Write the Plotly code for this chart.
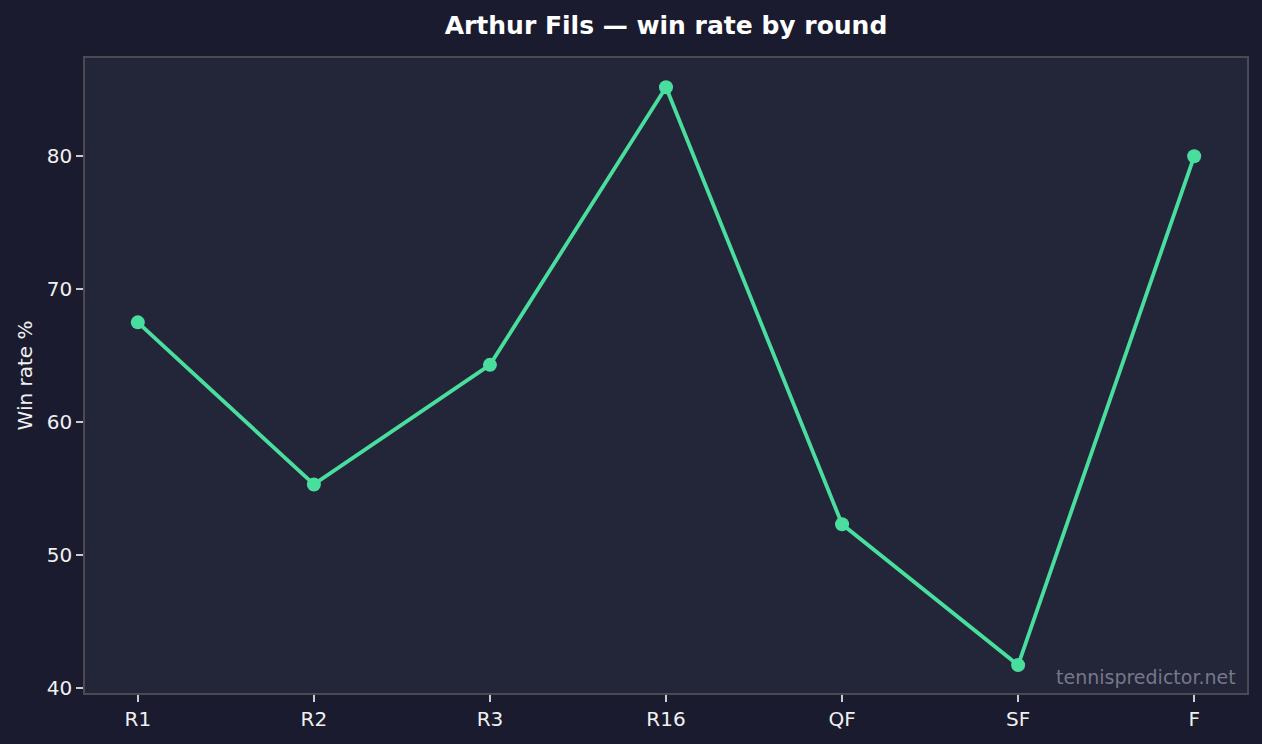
import plotly.graph_objects as go

rounds = ['R1', 'R2', 'R3', 'R16', 'QF', 'SF', 'F']
win_rate = [67.5, 55.3, 64.3, 85.2, 52.3, 41.7, 80.0]
y_ticks = [40, 50, 60, 70, 80]

bg = '#1a1b2e'
panel = '#232538'
green = '#4ade9e'

fig = go.Figure()
fig.add_trace(go.Scatter(
    x=rounds, y=win_rate, mode='lines+markers',
    line=dict(color=green, width=3.8),
    marker=dict(color=green, size=14),
    showlegend=False,
))

axis_common = dict(
    showline=True, linecolor='#4a4a52', linewidth=1.5, mirror=True,
    showgrid=False, zeroline=False,
    ticks='outside', ticklen=7, tickwidth=1.5, tickcolor='#cccccc',
    tickfont=dict(family='DejaVu Sans', size=20, color='#f0f0f0'),
)

fig.update_layout(
    width=1262, height=744,
    paper_bgcolor=bg, plot_bgcolor=panel,
    margin=dict(l=85, r=15, t=58, b=51),
    title=dict(text='<b>Arthur Fils — win rate by round</b>', xref='paper', x=0.5,
               xanchor='center', y=0.966, yanchor='middle',
               font=dict(family='DejaVu Sans', size=25, color='#ffffff')),
    xaxis=dict(range=[-0.3, 6.3], **axis_common),
    yaxis=dict(range=[39.6, 87.4], tickvals=y_ticks,
               title=dict(text='Win rate %', standoff=9,
                          font=dict(family='DejaVu Sans', size=20, color='#f0f0f0')),
               **axis_common),
)

fig.add_annotation(
    text='tennispredictor.net', xref='paper', yref='paper', x=0.992, y=0.004,
    xanchor='right', yanchor='bottom', showarrow=False,
    font=dict(family='DejaVu Sans', size=19, color='#77788a'),
)

fig.write_html('out.html', config={'displayModeBar': False},
               post_script="document.body.style.margin='0';")
